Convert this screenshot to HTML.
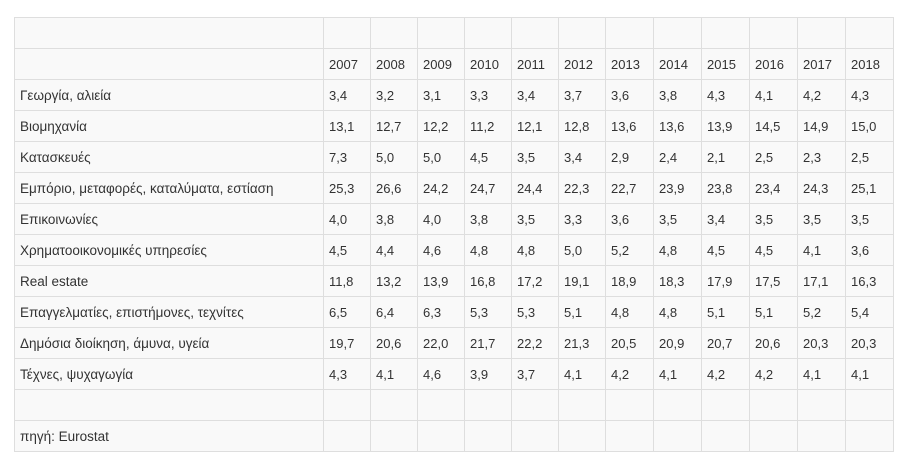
<!DOCTYPE html>
<html>
<head>
<meta charset="utf-8">
<style>
  html, body { margin: 0; padding: 0; background: #ffffff; }
  body { width: 903px; height: 456px; position: relative; overflow: hidden;
         font-family: "Liberation Sans", "DejaVu Sans", sans-serif; font-size: 13px; color: #333333; }
  .grid {
    position: absolute; left: 14px; top: 17px;
    display: grid;
    grid-template-columns: 309px 47px 47px 47px 47px 47px 47px 48px 48px 48px 48px 48px 48px;
    grid-auto-rows: 31px;
    border-left: 1px solid #dedede; border-top: 1px solid #dedede;
    background: #f9f9f9;
  }
  .grid > div {
    box-sizing: border-box;
    border-right: 1px solid #dedede; border-bottom: 1px solid #dedede;
    padding-left: 5px; line-height: 30px; padding-top: 1px; white-space: nowrap; overflow: hidden;
  }
  .grid > div:nth-child(13n+1) { font-size: 13.5px; }
</style>
</head>
<body>
<div class="grid">
  <div></div><div></div><div></div><div></div><div></div><div></div><div></div><div></div><div></div><div></div><div></div><div></div><div></div>

  <div></div><div>2007</div><div>2008</div><div>2009</div><div>2010</div><div>2011</div><div>2012</div><div>2013</div><div>2014</div><div>2015</div><div>2016</div><div>2017</div><div>2018</div>

  <div>Γεωργία, αλιεία</div><div>3,4</div><div>3,2</div><div>3,1</div><div>3,3</div><div>3,4</div><div>3,7</div><div>3,6</div><div>3,8</div><div>4,3</div><div>4,1</div><div>4,2</div><div>4,3</div>

  <div>Βιομηχανία</div><div>13,1</div><div>12,7</div><div>12,2</div><div>11,2</div><div>12,1</div><div>12,8</div><div>13,6</div><div>13,6</div><div>13,9</div><div>14,5</div><div>14,9</div><div>15,0</div>

  <div>Κατασκευές</div><div>7,3</div><div>5,0</div><div>5,0</div><div>4,5</div><div>3,5</div><div>3,4</div><div>2,9</div><div>2,4</div><div>2,1</div><div>2,5</div><div>2,3</div><div>2,5</div>

  <div>Εμπόριο, μεταφορές, καταλύματα, εστίαση</div><div>25,3</div><div>26,6</div><div>24,2</div><div>24,7</div><div>24,4</div><div>22,3</div><div>22,7</div><div>23,9</div><div>23,8</div><div>23,4</div><div>24,3</div><div>25,1</div>

  <div>Επικοινωνίες</div><div>4,0</div><div>3,8</div><div>4,0</div><div>3,8</div><div>3,5</div><div>3,3</div><div>3,6</div><div>3,5</div><div>3,4</div><div>3,5</div><div>3,5</div><div>3,5</div>

  <div>Χρηματοοικονομικές υπηρεσίες</div><div>4,5</div><div>4,4</div><div>4,6</div><div>4,8</div><div>4,8</div><div>5,0</div><div>5,2</div><div>4,8</div><div>4,5</div><div>4,5</div><div>4,1</div><div>3,6</div>

  <div>Real estate</div><div>11,8</div><div>13,2</div><div>13,9</div><div>16,8</div><div>17,2</div><div>19,1</div><div>18,9</div><div>18,3</div><div>17,9</div><div>17,5</div><div>17,1</div><div>16,3</div>

  <div>Επαγγελματίες, επιστήμονες, τεχνίτες</div><div>6,5</div><div>6,4</div><div>6,3</div><div>5,3</div><div>5,3</div><div>5,1</div><div>4,8</div><div>4,8</div><div>5,1</div><div>5,1</div><div>5,2</div><div>5,4</div>

  <div>Δημόσια διοίκηση, άμυνα, υγεία</div><div>19,7</div><div>20,6</div><div>22,0</div><div>21,7</div><div>22,2</div><div>21,3</div><div>20,5</div><div>20,9</div><div>20,7</div><div>20,6</div><div>20,3</div><div>20,3</div>

  <div>Τέχνες, ψυχαγωγία</div><div>4,3</div><div>4,1</div><div>4,6</div><div>3,9</div><div>3,7</div><div>4,1</div><div>4,2</div><div>4,1</div><div>4,2</div><div>4,2</div><div>4,1</div><div>4,1</div>

  <div></div><div></div><div></div><div></div><div></div><div></div><div></div><div></div><div></div><div></div><div></div><div></div><div></div>

  <div>πηγή: Eurostat</div><div></div><div></div><div></div><div></div><div></div><div></div><div></div><div></div><div></div><div></div><div></div><div></div>
</div>
</body>
</html>
